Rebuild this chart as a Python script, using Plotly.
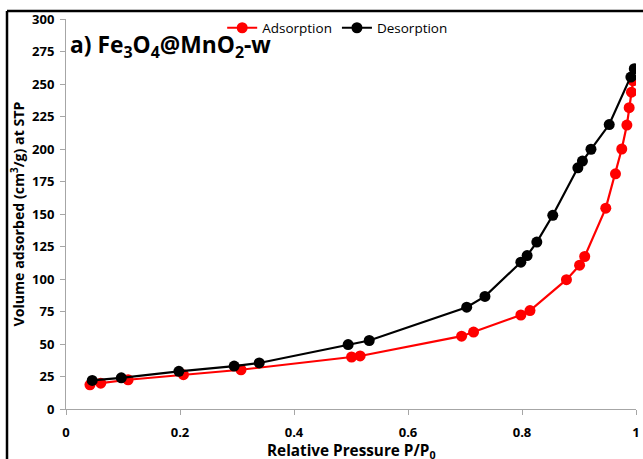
import plotly.graph_objects as go

# Nitrogen isotherm of Fe3O4@MnO2-w
ads_p = [0.042, 0.061, 0.109, 0.206, 0.307, 0.501, 0.516, 0.694, 0.715, 0.798,
         0.814, 0.878, 0.901, 0.910, 0.947, 0.964, 0.975, 0.984, 0.988, 0.992, 0.995]
ads_v = [18.6, 19.9, 22.5, 26.4, 30.2, 40.0, 40.8, 56.0, 59.2, 72.3,
         75.7, 99.5, 110.6, 117.3, 154.5, 180.9, 200.0, 218.4, 231.8, 243.7, 252.5]

des_p = [0.046, 0.097, 0.198, 0.295, 0.339, 0.495, 0.532, 0.703, 0.735, 0.798,
         0.809, 0.826, 0.854, 0.898, 0.906, 0.921, 0.953, 0.991, 0.997]
des_v = [22.0, 24.0, 29.0, 33.0, 35.4, 49.6, 52.7, 78.3, 86.6, 112.9,
         118.0, 128.4, 149.0, 185.5, 190.7, 199.8, 218.8, 255.3, 261.8]

x_ticks = [0, 0.2, 0.4, 0.6, 0.8, 1]
x_tick_text = ["0", "0.2", "0.4", "0.6", "0.8", "1"]
y_ticks = list(range(0, 301, 25))

FONT = "'Open Sans', 'Noto Sans', Arial, sans-serif"

fig = go.Figure()
fig.add_trace(go.Scatter(
    x=ads_p, y=ads_v, name="Adsorption", mode="lines+markers",
    line=dict(color="#ff0000", width=2.2),
    marker=dict(color="#ff0000", size=11),
))
fig.add_trace(go.Scatter(
    x=des_p, y=des_v, name="Desorption", mode="lines+markers",
    line=dict(color="#000000", width=2.2),
    marker=dict(color="#000000", size=11),
))

axis_common = dict(
    showgrid=False, zeroline=False, showline=True, linecolor="#a6a6a6",
    linewidth=1, ticks="outside", ticklen=5, tickcolor="#a6a6a6",
    automargin=False,
    tickfont=dict(family=FONT, size=13, color="#000000", weight="bold"),
)

fig.update_xaxes(
    range=[0, 1], tickvals=x_ticks, ticktext=x_tick_text, ticklabelstandoff=6,
    **axis_common,
)
fig.update_yaxes(
    range=[0, 300], tickvals=y_ticks, ticklabelstandoff=3,
    title=dict(text="Volume adsorbed (cm<sup>3</sup>/g) at STP", standoff=4,
               font=dict(family=FONT, size=14.2, color="#000000", weight="bold")),
    **axis_common,
)

# X-axis title placed below the tick labels
fig.add_annotation(
    text="Relative Pressure P/P<sub>0</sub>",
    xref="paper", yref="paper", x=0.5, y=-0.108, xanchor="center", yanchor="middle",
    showarrow=False, font=dict(family=FONT, size=15.3, color="#000000", weight="bold"),
)

# Sample label
fig.add_annotation(
    text="a) Fe<sub>3</sub>O<sub>4</sub>@MnO<sub>2</sub>-w",
    xref="paper", yref="paper", x=0.004, y=0.93, xanchor="left", yanchor="middle",
    showarrow=False, font=dict(family=FONT, size=22.8, color="#000000", weight="bold"),
)

# Outer frame (left and top edges)
fig.add_shape(type="line", xref="paper", yref="paper",
              x0=-0.1035, x1=-0.1035, y0=1.0205, y1=-0.2,
              line=dict(color="#000000", width=2.5))
fig.add_shape(type="line", xref="paper", yref="paper",
              x0=-0.1035, x1=1.05, y0=1.0205, y1=1.0205,
              line=dict(color="#000000", width=2.5))

fig.update_layout(
    width=643, height=459,
    margin=dict(l=66, r=7, t=19, b=50, autoexpand=False),
    paper_bgcolor="#ffffff", plot_bgcolor="#ffffff",
    showlegend=True,
    legend=dict(orientation="h", x=0.274, y=0.977, xanchor="left", yanchor="middle",
                font=dict(family=FONT, size=13.5, color="#000000"),
                bgcolor="rgba(0,0,0,0)", itemwidth=30, traceorder="normal"),
)

fig.write_html("out.html")
